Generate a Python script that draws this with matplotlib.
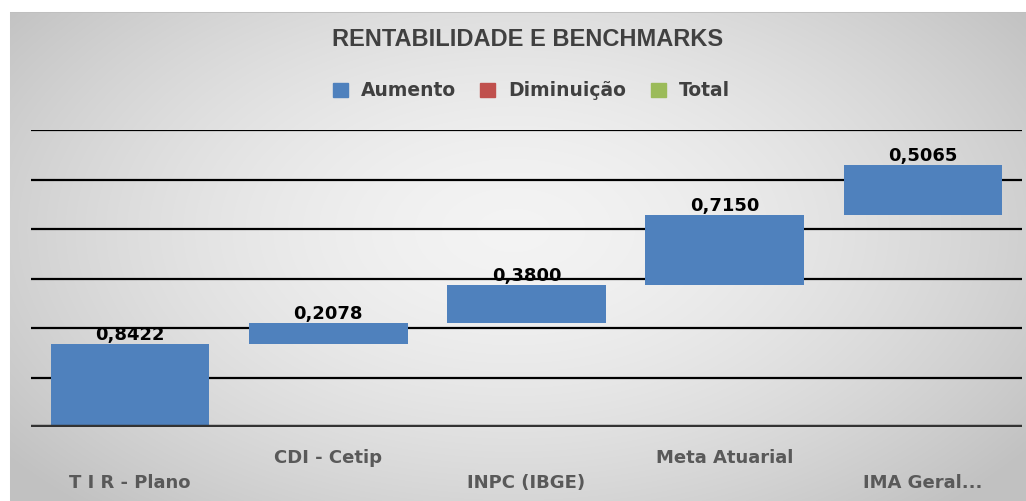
import numpy as np
import matplotlib.pyplot as plt
from matplotlib.patches import Patch

categories = ['T I R - Plano', 'CDI - Cetip', 'INPC (IBGE)', 'Meta Atuarial', 'IMA Geral...']
values = [0.8422, 0.2078, 0.3800, 0.7150, 0.5065]
value_labels = ['0,8422', '0,2078', '0,3800', '0,7150', '0,5065']

blue = '#4F81BD'
red = '#C0504D'
green = '#9BBB59'

fig = plt.figure(figsize=(10.26, 5.01), dpi=100)

# background: white margin + grey radial gradient panel
bg = fig.add_axes([0, 0, 1, 1], zorder=-10)
bg.set_axis_off()
h, w = 501, 1026
yy, xx = np.mgrid[0:h, 0:w]
r = np.sqrt(((xx - 513) / 560.0) ** 2 + ((yy - 230) / 330.0) ** 2)
g = np.clip(0.955 - 0.16 * r ** 1.6, 0.76, 0.96)
img = np.dstack([g, g, g])
img[:12, :, :] = 1.0
img[:, :10, :] = 1.0
img[12, 10:, :] = 0.75
bg.imshow(img, aspect='auto', extent=[0, 1, 0, 1], origin='upper')
bg.set_xlim(0, 1)
bg.set_ylim(0, 1)

ax = fig.add_axes([31 / 1026, 1 - 427 / 501, (1022 - 31) / 1026, (427 - 130) / 501])
ax.patch.set_alpha(0)

bottoms = np.concatenate([[0], np.cumsum(values)[:-1]])
x = np.arange(len(values))
ax.bar(x, values, bottom=bottoms, width=0.8, color=blue, zorder=3)

for xi, b, v, lab in zip(x, bottoms, values, value_labels):
    ax.text(xi, b + v + 0.04, lab, ha='center', va='baseline', fontsize=13,
            fontweight='bold', family='DejaVu Sans', color='black', zorder=4)

ax.set_xlim(-0.5, len(values) - 0.5)
ax.set_ylim(0, 3.0)
for gy in np.arange(0.5, 3.01, 0.5):
    ax.axhline(gy, color='black', lw=1.6, zorder=1)
ax.axhline(0, color='#333333', lw=3.2, zorder=5)
ax.set_xticks([])
ax.set_yticks([])
for s in ax.spines.values():
    s.set_visible(False)

for i, c in enumerate(categories):
    ypix = 483 if i % 2 == 0 else 458
    ax.text(i, (427 - ypix) / (427 - 130), c, transform=ax.get_xaxis_transform(),
            ha='center', va='center', fontsize=13, fontweight='bold',
            family='DejaVu Sans', color='#595959')

fig.text(0.514, 1 - 40 / 501, 'RENTABILIDADE E BENCHMARKS', ha='center', va='center',
         fontsize=17, fontweight='bold', family='Liberation Sans', color='#404040')

handles = [Patch(color=blue), Patch(color=red), Patch(color=green)]
leg = fig.legend(handles, ['Aumento', 'Diminuição', 'Total'], loc='center',
                 bbox_to_anchor=(0.518, 1 - 91 / 501), ncol=3, frameon=False,
                 prop={'family': 'DejaVu Sans', 'weight': 'bold', 'size': 13.5},
                 handlelength=0.8, handleheight=0.8, handletextpad=0.7, columnspacing=1.3)
for t in leg.get_texts():
    t.set_color('#404040')

fig.savefig('out.png', dpi=100)
